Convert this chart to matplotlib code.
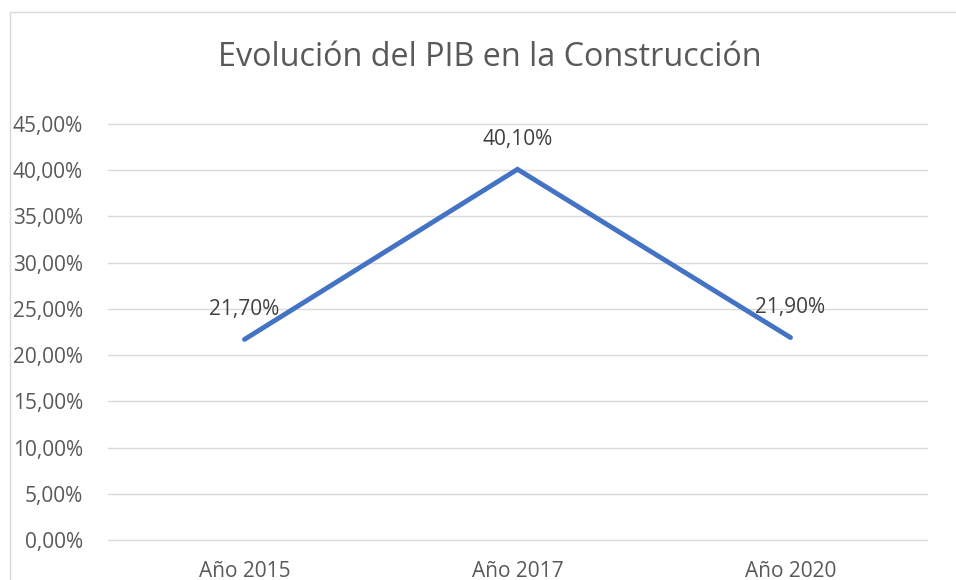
import matplotlib
matplotlib.use("Agg")
import matplotlib.pyplot as plt
from matplotlib.lines import Line2D
from matplotlib.ticker import FuncFormatter

categories = ["Año 2015", "Año 2017", "Año 2020"]
values = [0.217, 0.401, 0.219]
value_labels = ["21,70%", "40,10%", "21,90%"]
title = "Evolución del PIB en la Construcción"

plt.rcParams['font.family'] = ['Open Sans', 'DejaVu Sans']

W, H = 956, 580
fig = plt.figure(figsize=(W/100, H/100), dpi=100)
ax = fig.add_axes([108/W, 1-540/H, (927-108)/W, (540-124)/H])

x = list(range(len(categories)))
ax.plot(x, values, color="#4472C4", linewidth=3.5, solid_capstyle="round", solid_joinstyle="miter", zorder=3)
for xi, v, lab in zip(x, values, value_labels):
    ax.annotate(lab, (xi, v), xytext=(0, 21.5), textcoords="offset points",
                ha="center", va="center", fontsize=15, color="#404040")

ax.set_xlim(-0.5, 2.5)
ax.set_ylim(0, 0.45)
ax.set_yticks([i*0.05 for i in range(10)])
ax.yaxis.set_major_formatter(FuncFormatter(lambda v, p: f"{v*100:.2f}%".replace(".", ",")))
ax.set_xticks(x)
ax.set_xticklabels(categories)
ax.grid(axis="y", color="#D9D9D9", linewidth=1.0)
for gl in ax.get_ygridlines():
    gl.set_clip_on(False)
ax.set_axisbelow(True)
for s in ax.spines.values():
    s.set_visible(False)
ax.tick_params(axis="both", length=0, labelsize=15, labelcolor="#595959")
ax.tick_params(axis="y", pad=18)
ax.tick_params(axis="x", pad=15)

fig.text(490/W, 1-57/H, title, ha="center", va="center", fontsize=23.3, color="#595959")

fig.add_artist(Line2D([9.5/W, 9.5/W], [0, 1-11.5/H], transform=fig.transFigure, color="#D9D9D9", linewidth=1.0))
fig.add_artist(Line2D([9.5/W, 1], [1-11.5/H, 1-11.5/H], transform=fig.transFigure, color="#D9D9D9", linewidth=1.0))

fig.savefig("out.png", dpi=100)
